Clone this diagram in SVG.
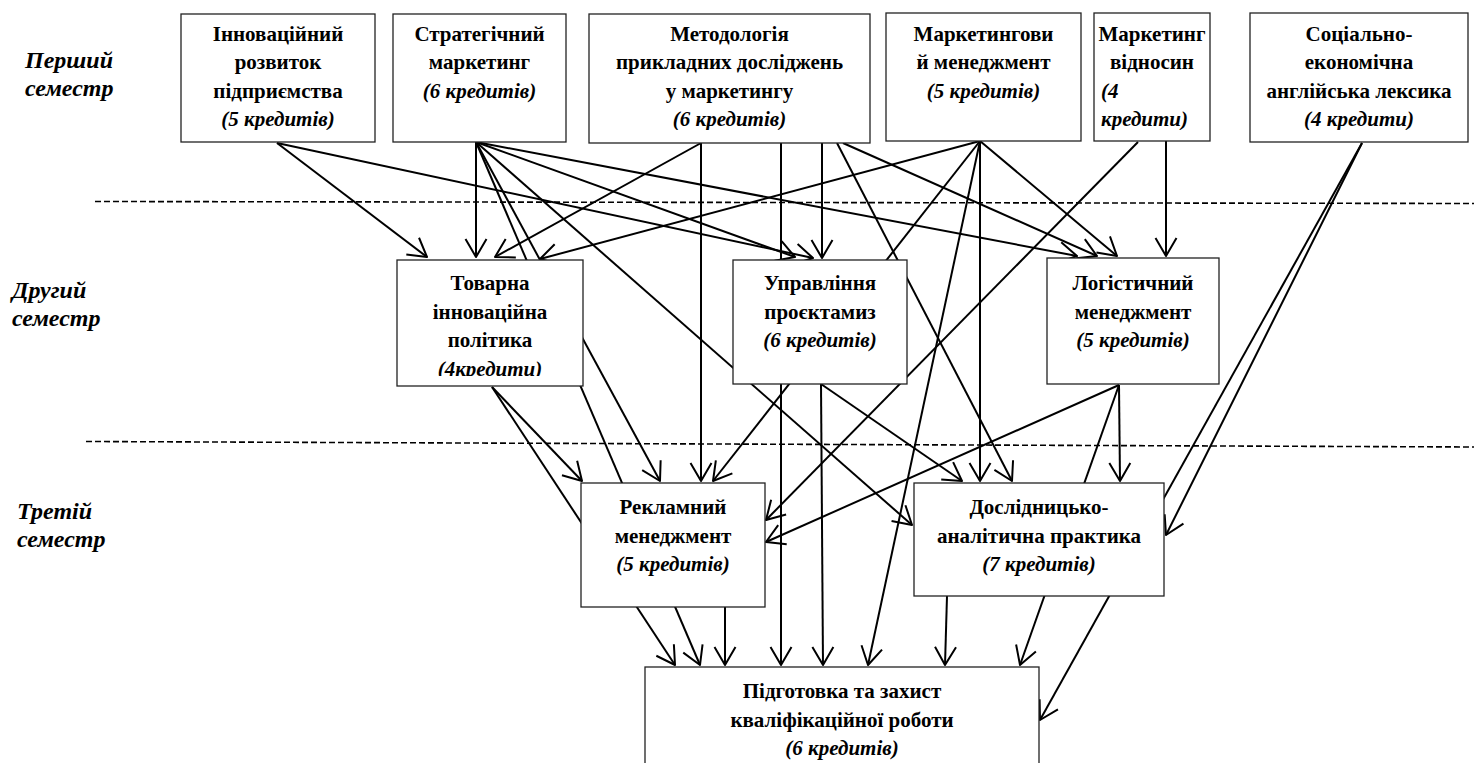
<svg xmlns="http://www.w3.org/2000/svg" width="1474" height="763" viewBox="0 0 1474 763">
<style>
.bg{fill:#fff}
.box{fill:#fff;stroke:#222;stroke-width:1.3}
.t{font-family:"Liberation Serif","Times New Roman",serif;font-weight:bold;font-size:21px;text-anchor:middle;fill:#000}
.i{font-style:italic}
.l{text-anchor:start}
.s{font-family:"Liberation Serif","Times New Roman",serif;font-weight:bold;font-style:italic;font-size:24px;fill:#000}
.dash{stroke:#000;stroke-width:1.6;stroke-dasharray:6 3;fill:none}
.c line{stroke:#000;stroke-width:2;fill:none;marker-end:url(#ah)}
</style>
<defs>
<marker id="ah" markerUnits="userSpaceOnUse" markerWidth="26" markerHeight="26" viewBox="-22 -13 26 26" refX="0" refY="0" orient="auto">
<path d="M-18,-10.5 L0,0 L-18,10.5" fill="none" stroke="#000" stroke-width="2" stroke-linejoin="round"/>
</marker>
<clipPath id="cTop"><rect x="0" y="0" width="1474" height="130"/></clipPath>
<clipPath id="cG"><rect x="397" y="260" width="186" height="116"/></clipPath>
</defs>
<rect class="bg" x="0" y="0" width="1474" height="763"/>

<g id="semesters">
<text class="s" x="25" y="68">Перший</text>
<text class="s" x="25" y="96">семестр</text>
<text class="s" x="12" y="298">Другий</text>
<text class="s" x="12" y="326">семестр</text>
<text class="s" x="17" y="519">Третій</text>
<text class="s" x="17" y="547">семестр</text>
<line class="dash" x1="95" y1="201.5" x2="1474" y2="203.5"/>
<line class="dash" x1="86" y1="441.5" x2="1474" y2="447"/>
</g>

<g id="connectors" class="c">
<line x1="277" y1="143" x2="427" y2="257"/>
<line x1="277" y1="143" x2="813" y2="258"/>
<line x1="476" y1="142" x2="476" y2="257"/>
<line x1="476" y1="142" x2="700" y2="665"/>
<line x1="476" y1="142" x2="660" y2="481"/>
<line x1="476" y1="142" x2="912" y2="525"/>
<line x1="476" y1="142" x2="795" y2="257"/>
<line x1="476" y1="142" x2="1077" y2="256"/>
<line x1="701" y1="143" x2="495" y2="257"/>
<line x1="701" y1="143" x2="701" y2="481"/>
<line x1="781" y1="143" x2="781" y2="665"/>
<line x1="822" y1="143" x2="822" y2="258"/>
<line x1="837" y1="143" x2="1012" y2="481"/>
<line x1="843" y1="143" x2="1097" y2="256"/>
<line x1="980" y1="141" x2="540" y2="259"/>
<line x1="980" y1="141" x2="713" y2="481"/>
<line x1="980" y1="141" x2="868" y2="665"/>
<line x1="980" y1="141" x2="980" y2="481"/>
<line x1="980" y1="141" x2="1117" y2="256"/>
<line x1="1138" y1="142" x2="766" y2="520"/>
<line x1="1166" y1="141" x2="1166" y2="256"/>
<line x1="1362" y1="143" x2="1166" y2="535"/>
<line x1="1362" y1="143" x2="1040" y2="720"/>
<line x1="492" y1="387" x2="582" y2="481"/>
<line x1="492" y1="387" x2="675" y2="665"/>
<line x1="821" y1="384" x2="823" y2="665"/>
<line x1="821" y1="384" x2="962" y2="481"/>
<line x1="1119" y1="385" x2="766" y2="542"/>
<line x1="1119" y1="385" x2="1020" y2="665"/>
<line x1="1119" y1="385" x2="1120" y2="481"/>
<line x1="725" y1="607" x2="725" y2="665"/>
<line x1="947" y1="596" x2="945" y2="665"/>
</g>

<g id="n-innov">
<rect class="box" x="181" y="14" width="194" height="128"/>
<g clip-path="url(#cTop)">
<text class="t" x="278" y="41">Інноваційний</text>
<text class="t" x="278" y="69.3">розвиток</text>
<text class="t" x="278" y="97.6">підприємства</text>
<text class="t i" x="278" y="125.9">(5 кредитів)</text>
</g>
</g>
<g id="n-strat">
<rect class="box" x="393" y="14" width="173" height="128"/>
<text class="t" x="479.5" y="41">Стратегічний</text>
<text class="t" x="479.5" y="69.3">маркетинг</text>
<text class="t i" x="479.5" y="97.6">(6 кредитів)</text>
</g>
<g id="n-method">
<rect class="box" x="589" y="14" width="281" height="129"/>
<g clip-path="url(#cTop)">
<text class="t" x="729.5" y="41">Методологія</text>
<text class="t" x="729.5" y="69.3">прикладних досліджень</text>
<text class="t" x="729.5" y="97.6">у маркетингу</text>
<text class="t i" x="729.5" y="125.9">(6 кредитів)</text>
</g>
</g>
<g id="n-mkmgmt">
<rect class="box" x="886" y="13" width="195" height="128"/>
<text class="t" x="983.5" y="41">Маркетингови</text>
<text class="t" x="983.5" y="69.3">й менеджмент</text>
<text class="t i" x="983.5" y="97.6">(5 кредитів)</text>
</g>
<g id="n-relations">
<rect class="box" x="1094" y="13" width="116" height="128"/>
<g clip-path="url(#cTop)">
<text class="t" x="1152" y="41">Маркетинг</text>
<text class="t" x="1152" y="69.3">відносин</text>
<text class="t i l" x="1101" y="97.6">(4</text>
<text class="t i l" x="1101" y="125.9">кредити)</text>
</g>
</g>
<g id="n-english">
<rect class="box" x="1250" y="13" width="218" height="129"/>
<g clip-path="url(#cTop)">
<text class="t" x="1359" y="41">Соціально-</text>
<text class="t" x="1359" y="69.3">економічна</text>
<text class="t" x="1359" y="97.6">англійська лексика</text>
<text class="t i" x="1359" y="125.9">(4 кредити)</text>
</g>
</g>

<g id="n-product">
<rect class="box" x="397" y="260" width="186" height="126"/>
<g clip-path="url(#cG)">
<text class="t" x="490" y="290">Товарна</text>
<text class="t" x="490" y="318.5">інноваційна</text>
<text class="t" x="490" y="347">політика</text>
<text class="t i" x="490" y="375.5">(4кредити)</text>
</g>
</g>
<g id="n-projects">
<rect class="box" x="733" y="260" width="174" height="124"/>
<text class="t" x="820" y="290">Управління</text>
<text class="t" x="820" y="318.5">проєктамиз</text>
<text class="t i" x="820" y="347">(6 кредитів)</text>
</g>
<g id="n-logistics">
<rect class="box" x="1047" y="258" width="172" height="126"/>
<text class="t" x="1133" y="290">Логістичний</text>
<text class="t" x="1133" y="318.5">менеджмент</text>
<text class="t i" x="1133" y="347">(5 кредитів)</text>
</g>

<g id="n-advert">
<rect class="box" x="581" y="483" width="184" height="124"/>
<text class="t" x="673" y="514">Рекламний</text>
<text class="t" x="673" y="542.5">менеджмент</text>
<text class="t i" x="673" y="571">(5 кредитів)</text>
</g>
<g id="n-research">
<rect class="box" x="914" y="483" width="250" height="113"/>
<text class="t" x="1039" y="514">Дослідницько-</text>
<text class="t" x="1039" y="542.5">аналітична практика</text>
<text class="t i" x="1039" y="571">(7 кредитів)</text>
</g>

<g id="n-thesis">
<rect class="box" x="645" y="667" width="394" height="110"/>
<text class="t" x="842" y="698">Підготовка та захист</text>
<text class="t" x="842" y="726.5">кваліфікаційної роботи</text>
<text class="t i" x="842" y="755">(6 кредитів)</text>
</g>
</svg>
